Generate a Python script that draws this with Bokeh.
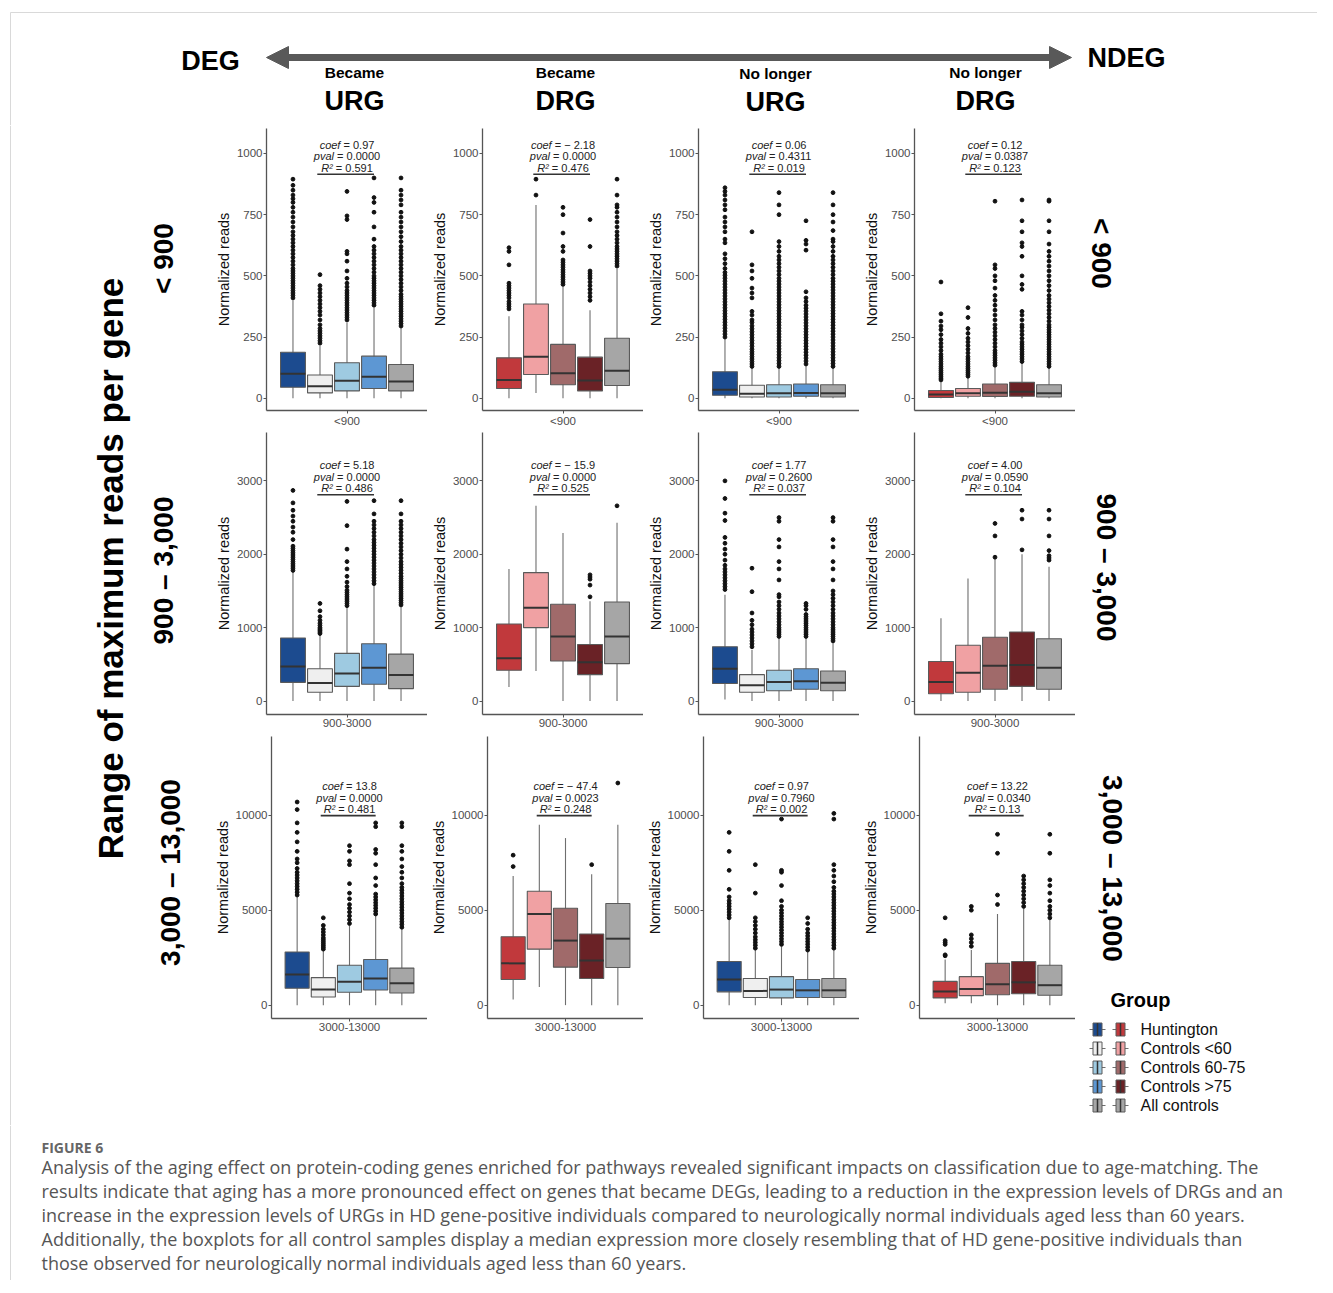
import math
from bokeh.plotting import figure
from bokeh.layouts import column, row
from bokeh.models import Range1d, FixedTicker, Arrow, NormalHead, ColumnDataSource, Spacer
from bokeh.core.properties import value
from bokeh.embed import file_html
from bokeh.resources import INLINE

# ---------------- data ----------------
GROUPS = ["Huntington", "Controls <60", "Controls 60-75", "Controls >75", "All controls"]
BLUE = ["#1c4b8f", "#efefef", "#9ecae1", "#5d97d3", "#a6a6a6"]
RED = ["#c1393c", "#f0a1a3", "#a06a6a", "#6a2226", "#a6a6a6"]

COL_TOP = ["Became", "Became", "No longer", "No longer"]
COL_MAIN = ["URG", "DRG", "URG", "DRG"]
ROW_XLABEL = ["<900", "900-3000", "3000-13000"]
ROW_TITLE = ["< 900", "900 \u2013 3,000", "3,000 \u2013 13,000"]
ROW_YTICKS = [[0, 250, 500, 750, 1000], [0, 1000, 2000, 3000], [0, 5000, 10000]]
ROW_YRANGE = [(-50, 1102), (-183, 3659), (-704, 14150)]
ROW_LINE_Y = [915, 2810, 9980]

# stats per box: [lower whisker, q1, median, q3, upper whisker]
R900_BURG_STATS = [[0, 45, 100, 188, 400], [0, 22, 49, 95, 215], [0, 30, 72, 145, 310], [0, 40, 88, 172, 370], [0, 30, 68, 138, 290]]
R900_BURG_OUT = [
    [410, 420, 430, 440, 450, 460, 470, 480, 490, 500, 510, 520, 530, 545, 560, 575, 590, 605, 620, 635, 650, 665, 680, 700, 720, 740, 760, 780, 800, 815, 830, 850, 870, 895],
    [225, 235, 245, 255, 265, 275, 285, 300, 320, 340, 355, 370, 385, 400, 415, 430, 445, 460, 505],
    [320, 330, 340, 350, 360, 370, 380, 390, 400, 410, 420, 430, 440, 455, 470, 490, 520, 560, 590, 600, 730, 745, 845],
    [380, 390, 400, 410, 420, 430, 440, 450, 460, 470, 480, 490, 500, 515, 530, 545, 560, 575, 590, 605, 620, 650, 700, 760, 800, 820, 900],
    [295, 305, 315, 325, 335, 345, 355, 365, 375, 385, 395, 405, 415, 425, 440, 455, 470, 485, 500, 515, 530, 545, 560, 575, 590, 605, 620, 640, 660, 680, 700, 720, 740, 760, 790, 810, 830, 850, 900],
]
R900_BDRG_STATS = [[0, 40, 75, 165, 335], [22, 97, 170, 385, 790], [0, 55, 102, 220, 455], [0, 30, 73, 168, 360], [0, 52, 112, 245, 530]]
R900_BDRG_OUT = [
    [365, 375, 385, 395, 410, 420, 430, 440, 450, 460, 470, 545, 600, 615],
    [830, 895],
    [465, 475, 485, 495, 505, 515, 525, 535, 545, 555, 565, 600, 620, 675, 750, 780],
    [400, 415, 430, 445, 460, 475, 490, 500, 510, 520, 620, 730],
    [540, 550, 560, 570, 580, 590, 600, 610, 620, 635, 650, 665, 680, 700, 720, 740, 760, 780, 790, 830, 895],
]
R900_NURG_STATS = [[0, 12, 35, 108, 245], [0, 5, 18, 53, 125], [0, 5, 20, 55, 128], [0, 8, 22, 58, 135], [0, 5, 20, 55, 128]]
R900_NURG_OUT = [
    [250, 262, 274, 286, 298, 310, 322, 334, 346, 358, 370, 382, 394, 406, 418, 430, 442, 454, 466, 478, 490, 502, 514, 530, 550, 570, 590, 635, 650, 680, 700, 720, 740, 770, 790, 810, 830, 845, 860],
    [130, 140, 150, 160, 170, 180, 190, 200, 212, 224, 236, 248, 260, 272, 284, 296, 310, 320, 340, 355, 410, 430, 450, 490, 520, 545, 680],
    [130, 142, 154, 166, 178, 190, 202, 214, 226, 238, 250, 262, 274, 286, 298, 310, 322, 334, 346, 358, 370, 382, 394, 406, 418, 430, 442, 454, 466, 478, 490, 505, 520, 535, 550, 565, 580, 600, 620, 640, 750, 790, 840],
    [140, 152, 164, 176, 188, 200, 212, 224, 236, 248, 260, 272, 284, 296, 308, 320, 332, 344, 356, 368, 380, 395, 410, 435, 605, 630, 645, 725],
    [130, 142, 154, 166, 178, 190, 202, 214, 226, 238, 250, 262, 274, 286, 298, 310, 322, 334, 346, 358, 370, 382, 394, 406, 418, 430, 442, 454, 466, 478, 490, 505, 520, 535, 550, 565, 580, 600, 620, 640, 650, 685, 720, 750, 790, 840],
]
R900_NDRG_STATS = [[0, 3, 15, 32, 70], [0, 8, 20, 40, 85], [0, 7, 23, 58, 130], [0, 8, 27, 65, 145], [0, 5, 20, 55, 125]]
R900_NDRG_OUT = [
    [75, 82, 90, 98, 106, 114, 122, 130, 140, 150, 160, 170, 180, 195, 210, 225, 240, 260, 280, 295, 315, 345, 475],
    [90, 98, 106, 114, 122, 130, 140, 150, 160, 170, 185, 200, 215, 230, 245, 265, 285, 330, 370],
    [135, 145, 155, 165, 175, 185, 195, 210, 225, 240, 255, 270, 285, 300, 320, 340, 360, 380, 400, 420, 450, 480, 500, 530, 545, 805],
    [150, 160, 170, 180, 190, 200, 210, 220, 230, 245, 260, 275, 290, 300, 320, 340, 355, 445, 465, 500, 580, 620, 635, 680, 725, 810],
    [130, 140, 150, 160, 170, 180, 190, 200, 210, 220, 230, 240, 250, 260, 270, 280, 290, 300, 315, 330, 345, 360, 375, 390, 405, 420, 440, 460, 480, 500, 520, 540, 560, 580, 600, 630, 680, 725, 805, 810],
]

R3000_BURG_STATS = [[0, 255, 470, 860, 1760], [0, 120, 245, 440, 900], [0, 200, 375, 650, 1290], [0, 230, 455, 780, 1580], [0, 170, 355, 640, 1300]]
R3000_BURG_OUT = [
    [1780, 1810, 1840, 1870, 1900, 1930, 1960, 1990, 2020, 2050, 2080, 2110, 2200, 2300, 2370, 2450, 2520, 2600, 2700, 2870],
    [920, 940, 960, 980, 1000, 1030, 1060, 1100, 1150, 1230, 1330],
    [1300, 1330, 1360, 1390, 1420, 1450, 1480, 1510, 1560, 1620, 1700, 1800, 1900, 2070, 2390, 2720],
    [1600, 1640, 1680, 1720, 1760, 1800, 1840, 1880, 1920, 1960, 2000, 2040, 2080, 2120, 2160, 2200, 2250, 2300, 2350, 2400, 2450, 2550, 2730],
    [1310, 1340, 1370, 1400, 1430, 1460, 1490, 1520, 1550, 1580, 1610, 1640, 1670, 1700, 1740, 1780, 1820, 1860, 1900, 1950, 2000, 2050, 2100, 2150, 2200, 2250, 2300, 2350, 2400, 2450, 2550, 2730],
]
R3000_BDRG_STATS = [[190, 420, 585, 1050, 1800], [410, 1000, 1270, 1750, 2660], [0, 545, 880, 1320, 2290], [0, 360, 530, 770, 1360], [0, 510, 880, 1350, 2430]]
R3000_BDRG_OUT = [[], [], [], [1420, 1580, 1660, 1690, 1720], [2660]]
R3000_NURG_STATS = [[20, 240, 440, 740, 1450], [0, 120, 215, 360, 700], [0, 140, 260, 420, 850], [0, 160, 270, 440, 860], [0, 140, 250, 410, 800]]
R3000_NURG_OUT = [
    [1520, 1560, 1600, 1640, 1680, 1720, 1760, 1800, 1850, 1920, 2000, 2070, 2150, 2230, 2460, 2560, 2760, 3000],
    [740, 780, 820, 860, 900, 940, 980, 1040, 1100, 1200, 1490, 1810],
    [880, 910, 940, 970, 1000, 1040, 1080, 1120, 1160, 1200, 1250, 1300, 1350, 1420, 1450, 1650, 1800, 1900, 2100, 2200, 2450, 2500],
    [880, 910, 940, 970, 1000, 1030, 1060, 1090, 1120, 1150, 1180, 1250, 1300, 1330],
    [820, 850, 880, 910, 940, 970, 1000, 1040, 1080, 1120, 1160, 1200, 1250, 1300, 1350, 1400, 1450, 1500, 1650, 1800, 1900, 2100, 2200, 2450, 2500],
]
R3000_NDRG_STATS = [[0, 100, 260, 540, 1130], [0, 120, 385, 760, 1670], [0, 160, 480, 870, 1950], [0, 200, 490, 940, 2000], [0, 160, 455, 850, 1830]]
R3000_NDRG_OUT = [[], [], [1960, 2250, 2420], [2060, 2480, 2600], [1920, 1950, 1980, 2050, 2250, 2480, 2600]]

R13000_BURG_STATS = [[0, 890, 1610, 2800, 5700], [0, 430, 820, 1450, 2900], [0, 680, 1230, 2100, 4200], [0, 800, 1400, 2400, 4700], [0, 640, 1150, 1950, 4000]]
R13000_BURG_OUT = [
    [5800, 5950, 6100, 6250, 6400, 6550, 6700, 6850, 7000, 7200, 7500, 7700, 8100, 8600, 9100, 9600, 10300, 10700],
    [2950, 3050, 3150, 3250, 3350, 3450, 3550, 3700, 3850, 4000, 4200, 4600],
    [4300, 4500, 4700, 4900, 5100, 5300, 5600, 5900, 6400, 7400, 7600, 8100, 8400],
    [4800, 4950, 5100, 5250, 5400, 5550, 5700, 5850, 6300, 6700, 7400, 8000, 8200, 9400, 9600],
    [4100, 4250, 4400, 4550, 4700, 4850, 5000, 5150, 5300, 5450, 5600, 5750, 5900, 6050, 6200, 6400, 6700, 7000, 7300, 7700, 8100, 8400, 9400, 9600],
]
R13000_BDRG_STATS = [[300, 1350, 2200, 3600, 6800], [950, 2950, 4800, 6000, 9500], [0, 2000, 3400, 5100, 8800], [0, 1400, 2350, 3750, 6900], [0, 1980, 3500, 5350, 9500]]
R13000_BDRG_OUT = [[7300, 7900], [], [], [7400], [11700]]
R13000_NURG_STATS = [[0, 700, 1350, 2300, 4500], [0, 400, 750, 1400, 2900], [0, 380, 820, 1500, 3100], [0, 400, 780, 1350, 2800], [0, 400, 780, 1400, 2900]]
R13000_NURG_OUT = [
    [4600, 4750, 4900, 5050, 5200, 5350, 5500, 5700, 6100, 7100, 8100, 9100],
    [3000, 3150, 3300, 3450, 3600, 3800, 4000, 4200, 4400, 4600, 5900, 7400],
    [3200, 3350, 3500, 3650, 3800, 3950, 4100, 4250, 4400, 4550, 4700, 4850, 5000, 5200, 5500, 6300, 7000, 7100, 9800],
    [2900, 3050, 3200, 3350, 3500, 3650, 3800, 4000, 4300, 4600],
    [3000, 3150, 3300, 3450, 3600, 3750, 3900, 4050, 4200, 4350, 4500, 4650, 4800, 4950, 5100, 5250, 5400, 5550, 5700, 5850, 6000, 6200, 6500, 6800, 7100, 7400, 9800, 10100],
]
R13000_NDRG_STATS = [[100, 380, 720, 1250, 2400], [100, 500, 850, 1500, 2900], [0, 550, 1100, 2200, 4800], [0, 600, 1200, 2300, 5100], [0, 520, 1050, 2100, 4500]]
R13000_NDRG_OUT = [
    [2600, 2650, 3200, 3300, 3400, 4600],
    [3100, 3300, 3500, 3700, 5000, 5200],
    [5300, 5800, 8000, 9000],
    [5200, 5400, 5600, 5800, 6000, 6200, 6400, 6600, 6800],
    [4600, 4800, 5000, 5200, 5500, 5900, 6300, 6600, 8000, 9000],
]

# regression annotations (per row, per column)
COEF = [["0.97", "\u2212 2.18", "0.06", "0.12"], ["5.18", "\u2212 15.9", "1.77", "4.00"], ["13.8", "\u2212 47.4", "0.97", "13.22"]]
PVAL = [["0.0000", "0.0000", "0.4311", "0.0387"], ["0.0000", "0.0000", "0.2600", "0.0590"], ["0.0000", "0.0023", "0.7960", "0.0340"]]
RSQ = [["0.591", "0.476", "0.019", "0.123"], ["0.486", "0.525", "0.037", "0.104"], ["0.481", "0.248", "0.002", "0.13"]]

PANEL_STATS = [
    [R900_BURG_STATS, R900_BDRG_STATS, R900_NURG_STATS, R900_NDRG_STATS],
    [R3000_BURG_STATS, R3000_BDRG_STATS, R3000_NURG_STATS, R3000_NDRG_STATS],
    [R13000_BURG_STATS, R13000_BDRG_STATS, R13000_NURG_STATS, R13000_NDRG_STATS],
]
PANEL_OUT = [
    [R900_BURG_OUT, R900_BDRG_OUT, R900_NURG_OUT, R900_NDRG_OUT],
    [R3000_BURG_OUT, R3000_BDRG_OUT, R3000_NURG_OUT, R3000_NDRG_OUT],
    [R13000_BURG_OUT, R13000_BDRG_OUT, R13000_NURG_OUT, R13000_NDRG_OUT],
]
PANEL_PALETTE = [BLUE, RED, BLUE, RED]

CAPTION_HEAD = "FIGURE 6"
CAPTION_LINES = [
    "Analysis of the aging effect on protein-coding genes enriched for pathways revealed significant impacts on classification due to age-matching. The",
    "results indicate that aging has a more pronounced effect on genes that became DEGs, leading to a reduction in the expression levels of DRGs and an",
    "increase in the expression levels of URGs in HD gene-positive individuals compared to neurologically normal individuals aged less than 60 years.",
    "Additionally, the boxplots for all control samples display a median expression more closely resembling that of HD gene-positive individuals than",
    "those observed for neurologically normal individuals aged less than 60 years.",
]

# ---------------- styling helpers ----------------
FONT = "Liberation Sans"
AXIS_COL = "#555555"
W = {'.': 0.278, ' ': 0.278, '=': 0.584, '\u2212': 0.584, 'c': 0.5, 'o': 0.556, 'e': 0.556, 'f': 0.278,
     'p': 0.556, 'v': 0.5, 'a': 0.556, 'l': 0.222, 'R': 0.722, '\u00b2': 0.333}


def tw(s, size):
    return sum(W.get(ch, 0.556) for ch in s) * size


def blank(width, height, xr, yr):
    f = figure(width=width, height=height, output_backend="svg", toolbar_location=None,
               x_range=Range1d(*xr), y_range=Range1d(*yr), x_axis_type=None, y_axis_type=None,
               min_border=0)
    f.outline_line_color = None
    f.grid.visible = False
    return f


def panel(r, c):
    stats = PANEL_STATS[r][c]
    outs = PANEL_OUT[r][c]
    pal = PANEL_PALETTE[c]
    p = figure(width=216, height=304, output_backend="svg", toolbar_location=None,
               x_range=Range1d(-2.98, 2.98), y_range=Range1d(*ROW_YRANGE[r]),
               min_border_left=55, min_border_right=0, min_border_top=3, min_border_bottom=19)
    p.outline_line_color = None
    p.grid.visible = False
    n = len(stats)
    xs = [i - (n - 1) / 2 for i in range(n)]
    hw = 0.46
    src = ColumnDataSource(dict(
        x=xs, xl=[x - hw for x in xs], xr=[x + hw for x in xs],
        low=[s[0] for s in stats], q1=[s[1] for s in stats], med=[s[2] for s in stats],
        q3=[s[3] for s in stats], high=[s[4] for s in stats], color=pal))
    p.segment(x0='x', y0='low', x1='x', y1='high', source=src, line_color="#6e6e6e", line_width=1.1)
    p.vbar(x='x', width=2 * hw, bottom='q1', top='q3', source=src, fill_color='color',
           line_color="#5a5a5a", line_width=1.1)
    p.segment(x0='xl', y0='med', x1='xr', y1='med', source=src, line_color="#333333", line_width=2)
    ox, oy = [], []
    for x, o in zip(xs, outs):
        ox += [x] * len(o)
        oy += list(o)
    p.scatter(ox, oy, size=3.8, color="#111111")

    # annotation
    ly = ROW_LINE_Y[r]
    p.segment(x0=[-1.1], y0=[ly], x1=[1.0], y1=[ly], line_color="#333333", line_width=1.6)
    size = 11
    rows = [("coef", "= " + COEF[r][c], -29.5), ("pval", "= " + PVAL[r][c], -18), ("R\u00b2", "= " + RSQ[r][c], -6.5)]
    for lab, val, dy in rows:
        sp = tw(" ", size)
        wl = tw(lab, size) + sp
        wv = tw(val, size)
        split = -(wl + wv) / 2 + wl
        p.text(x=[0], y=[ly], text=[lab], x_offset=split - sp, y_offset=dy, text_align="right",
               text_baseline="middle", text_font=value(FONT), text_font_size=f"{size}px",
               text_font_style="italic", text_color="#222222")
        p.text(x=[0], y=[ly], text=[val], x_offset=split, y_offset=dy, text_align="left",
               text_baseline="middle", text_font=value(FONT), text_font_size=f"{size}px",
               text_color="#222222")

    # axes
    p.xaxis.ticker = FixedTicker(ticks=[0])
    p.xaxis.major_label_overrides = {0: ROW_XLABEL[r]}
    p.yaxis.ticker = FixedTicker(ticks=ROW_YTICKS[r])
    p.yaxis.axis_label = "Normalized reads"
    for ax in (p.xaxis[0], p.yaxis[0]):
        ax.axis_line_color = AXIS_COL
        ax.axis_line_width = 1.3
        ax.major_tick_line_color = AXIS_COL
        ax.major_tick_out = 3
        ax.major_tick_in = 0
        ax.minor_tick_line_color = None
        ax.major_label_standoff = 1
        ax.major_label_text_font = FONT
        ax.major_label_text_font_size = "11.5px"
        ax.major_label_text_color = "#4d4d4d"
    p.yaxis.axis_label_text_font = FONT
    p.yaxis.axis_label_text_font_size = "14.5px"
    p.yaxis.axis_label_text_font_style = "normal"
    p.yaxis.axis_label_text_color = "#111111"
    p.yaxis.axis_label_standoff = 2
    return p


# ---------------- header ----------------
header = blank(1317, 125, (0, 1317), (125, 0))
header.segment(x0=[10], y0=[12], x1=[1317], y1=[12], line_color="#d9d9d9", line_width=1)
header.segment(x0=[10], y0=[12], x1=[10], y1=[125], line_color="#d9d9d9", line_width=1)
header.add_layout(Arrow(start=NormalHead(size=22, fill_color="#595959", line_color="#595959"),
                        end=NormalHead(size=22, fill_color="#595959", line_color="#595959"),
                        x_start=266, y_start=57, x_end=1071, y_end=57,
                        line_color="#595959", line_width=7))
header.text(x=[210, 1126], y=[60, 57], text=["DEG", "NDEG"], text_align="center", text_baseline="middle",
            text_font=value(FONT), text_font_size="27px", text_font_style="bold", text_color="#000000")
COL_CX = [354, 565, 775, 985]
header.text(x=COL_CX, y=[72, 72, 73, 72], text=COL_TOP, text_align="center", text_baseline="middle",
            text_font=value(FONT), text_font_size="15.5px", text_font_style="bold", text_color="#000000")
header.text(x=COL_CX, y=[100, 100, 101, 100], text=COL_MAIN, text_align="center", text_baseline="middle",
            text_font=value(FONT), text_font_size="27px", text_font_style="bold", text_color="#000000")

# ---------------- left labels ----------------
left = blank(211, 1000, (0, 211), (1125, 125))
left.segment(x0=[10], y0=[125], x1=[10], y1=[1125], line_color="#d9d9d9", line_width=1)
left.text(x=[110], y=[568], text=["Range of maximum reads per gene"], angle=math.pi / 2,
          text_align="center", text_baseline="middle", text_font=value(FONT), text_font_size="35px",
          text_font_style="bold", text_color="#000000")
left.text(x=[163, 163, 170], y=[258, 570, 872], text=ROW_TITLE, angle=math.pi / 2,
          text_align="center", text_baseline="middle", text_font=value(FONT), text_font_size="28px",
          text_font_style="bold", text_color="#000000")

# ---------------- right labels + legend ----------------
right = blank(242, 1000, (1075, 1317), (1125, 125))
right.text(x=[1101, 1106, 1112], y=[253, 567, 868], text=ROW_TITLE, angle=-math.pi / 2,
           text_align="center", text_baseline="middle", text_font=value(FONT), text_font_size="28px",
           text_font_style="bold", text_color="#000000")
right.text(x=[1110], y=[999], text=["Group"], text_align="left", text_baseline="middle",
           text_font=value(FONT), text_font_size="20px", text_font_style="bold", text_color="#000000")
ky = [1029 + 19 * i for i in range(len(GROUPS))]
for kx, pal in ((1097, BLUE), (1120, RED)):
    ks = ColumnDataSource(dict(x=[kx] * len(GROUPS), y=ky, c=pal,
                               wl0=[kx - 8] * len(GROUPS), wl1=[kx - 4.5] * len(GROUPS),
                               wr0=[kx + 4.5] * len(GROUPS), wr1=[kx + 8] * len(GROUPS),
                               yt=[y - 6.5 for y in ky], yb=[y + 6.5 for y in ky]))
    right.segment(x0='wl0', y0='y', x1='wl1', y1='y', source=ks, line_color="#6e6e6e", line_width=1.1)
    right.segment(x0='wr0', y0='y', x1='wr1', y1='y', source=ks, line_color="#6e6e6e", line_width=1.1)
    right.rect(x='x', y='y', width=9, height=13, source=ks, fill_color='c', line_color="#5a5a5a", line_width=1)
    right.segment(x0='x', y0='yt', x1='x', y1='yb', source=ks, line_color="#333333", line_width=1.5)
right.text(x=[1140] * len(GROUPS), y=ky, text=GROUPS, text_align="left", text_baseline="middle",
           text_font=value(FONT), text_font_size="16px", text_color="#111111")

# ---------------- panels grid ----------------
grid_rows = []
for r in range(3):
    grid_rows.append(row([panel(r, c) for c in range(4)], spacing=0))
grid = column(grid_rows + [Spacer(width=864, height=88)], spacing=0)

# ---------------- caption ----------------
cap = blank(1317, 155, (0, 1317), (1280, 1125))
cap.segment(x0=[10], y0=[1125], x1=[10], y1=[1280], line_color="#d9d9d9", line_width=1)
cap.text(x=[41], y=[1147], text=[CAPTION_HEAD], text_align="left", text_baseline="middle",
         text_font=value("Open Sans"), text_font_size="14px", text_font_style="bold", text_color="#666666")
cap.text(x=[41] * len(CAPTION_LINES), y=[1166 + 24 * i for i in range(len(CAPTION_LINES))], text=CAPTION_LINES,
         text_align="left", text_baseline="middle", text_font=value("Open Sans"), text_font_size="18px",
         text_color="#555555")

layout = column([header, row([left, grid, right], spacing=0), cap], spacing=0)
open("out.html", "w").write(file_html(layout, INLINE))
